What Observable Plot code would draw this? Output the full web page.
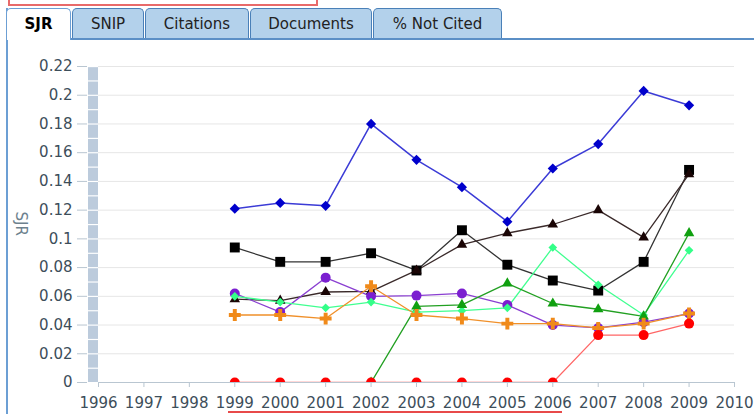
<!DOCTYPE html>
<html><head><meta charset="utf-8">
<script src="https://cdn.jsdelivr.net/npm/d3@7"></script>
<script src="https://cdn.jsdelivr.net/npm/@observablehq/plot@0.6"></script>
<style>
html,body{margin:0;padding:0;background:#fff;}
#wrap{position:relative;width:754px;height:414px;overflow:hidden;font-family:"DejaVu Sans",sans-serif;}
.tab{position:absolute;top:8px;height:30px;box-sizing:border-box;border:1px solid #4a80b8;border-bottom:none;border-radius:5px 5px 0 0;background:#b3d1eb;color:#222;font-size:15px;line-height:31px;text-align:center;z-index:3;}
.tab.sel{background:#fff;height:32px;font-weight:bold;color:#000;border-color:#6c9fd4;z-index:4;}
#base{position:absolute;left:6px;right:0;top:38px;height:2px;background:#5b8fc6;z-index:2;}
#lborder{position:absolute;left:6px;top:8px;width:2px;bottom:0;background:#6c9fd4;z-index:2;}
#chart{position:absolute;left:0;top:40px;z-index:1;}
#redtop{position:absolute;left:8px;top:-10px;width:306px;height:12px;border:2px solid #e86a6a;}
#redbot{position:absolute;left:228px;top:411px;width:334px;height:2px;background:#e84a4a;}
</style></head>
<body><div id="wrap">
<div id="redtop"></div>
<div class="tab sel" style="left:6px;width:65px;">SJR</div>
<div class="tab" style="left:72px;width:72px;">SNIP</div>
<div class="tab" style="left:145px;width:104px;">Citations</div>
<div class="tab" style="left:250px;width:122px;">Documents</div>
<div class="tab" style="left:373px;width:129px;">% Not Cited</div>
<div id="base"></div>
<div id="lborder"></div>
<div id="chart"></div>
<div id="redbot"></div>
</div>
<script>
// ---- data ----
const years = [1999, 2000, 2001, 2002, 2003, 2004, 2005, 2006, 2007, 2008, 2009];
const axisYears = [1996, 1997, 1998, 1999, 2000, 2001, 2002, 2003, 2004, 2005, 2006, 2007, 2008, 2009, 2010];
const yTicks = [0, 0.02, 0.04, 0.06, 0.08, 0.1, 0.12, 0.14, 0.16, 0.18, 0.2, 0.22];
const yTickLabels = ["0", "0.02", "0.04", "0.06", "0.08", "0.1", "0.12", "0.14", "0.16", "0.18", "0.2", "0.22"];
const yAxisTitle = "SJR";

const blueDiamond   = [0.121, 0.125, 0.123, 0.180, 0.155, 0.136, 0.112, 0.149, 0.166, 0.203, 0.193];
const blackSquare   = [0.094, 0.084, 0.084, 0.090, 0.078, 0.106, 0.082, 0.071, 0.064, 0.084, 0.148];
const blackTriangle = [0.058, 0.057, 0.063, 0.0635, 0.078, 0.096, 0.104, 0.110, 0.120, 0.101, 0.145];
const purpleCircle  = [0.062, 0.049, 0.073, 0.060, 0.0605, 0.062, 0.054, 0.040, 0.038, 0.042, 0.048];
const lightGreenDiamond = [0.060, 0.056, 0.052, 0.056, 0.049, 0.050, 0.052, 0.094, 0.068, 0.047, 0.092];
const greenTriangle = [null, null, null, 0, 0.053, 0.054, 0.069, 0.055, 0.051, 0.046, 0.104];
const orangePlus    = [0.047, 0.047, 0.0445, 0.067, 0.047, 0.0445, 0.041, 0.041, 0.038, 0.041, 0.048];
const redCircle     = [0, 0, 0, 0, 0, 0, 0, 0, 0.033, 0.033, 0.041];

// ---- styles (separate from data) ----
const styles = [
  {values: blueDiamond,       line: "#3b3bd6", fill: "#0000cc", symbol: "diamond2", r: 4.6, w: 1.5},
  {values: blackSquare,       line: "#333333", fill: "#000000", symbol: "square",   r: 5.6, w: 1.3},
  {values: blackTriangle,     line: "#3a2a2a", fill: "#1a0505", symbol: "triangle", r: 3.9, w: 1.3},
  {values: purpleCircle,      line: "#8a3fd1", fill: "#7b1fd0", symbol: "circle",   r: 5,   w: 1.3},
  {values: lightGreenDiamond, line: "#40ff90", fill: "#33ff88", symbol: "diamond2", r: 3.9, w: 1.3},
  {values: greenTriangle,     line: "#22a022", fill: "#10a010", symbol: "triangle", r: 3.9, w: 1.3},
  {values: orangePlus,        line: "#f0902a", fill: "#f08a1a", symbol: "cross",    r: 5,   w: 1.3},
  {values: redCircle,         line: "#ff6666", fill: "#ff0000", symbol: "circle",   r: 5,   w: 1.3}
];

// decorative striped bar beside the y axis (one segment per 0.01)
const barSegs = d3.range(22).map(i => ({lo: i / 100, hi: (i + 1) / 100}));

const rowsOf = s => years.map((year, i) => ({year, value: s.values[i]})).filter(d => d.value != null);
const seriesMarks = styles.map(s => Plot.line(rowsOf(s), {x: "year", y: "value", stroke: s.line, strokeWidth: s.w, clip: true}));
const dotMarks = styles.map(s => Plot.dot(rowsOf(s), {x: "year", y: "value", symbol: s.symbol, r: s.r, fill: s.fill, stroke: "none", clip: true}));

const axisColor = "#b9c6d1";
const textColor = "#3d4e5a";

const chart = Plot.plot({
  width: 754,
  height: 374,
  marginLeft: 98,
  marginRight: 20,
  marginTop: 26,
  marginBottom: 32,
  style: {fontFamily: "DejaVu Sans, sans-serif", fontSize: "15px", background: "transparent", overflow: "visible"},
  x: {domain: [1996, 2010]},
  y: {domain: [0, 0.22]},
  marks: [
    Plot.gridY(yTicks, {stroke: "#e6e6e6", strokeOpacity: 1}),
    Plot.ruleX(barSegs, {x: () => 1996, y1: "lo", y2: d => d.hi - 0.0008, stroke: "#bccbdc", strokeWidth: 10, dx: -5.5}),
    Plot.axisY({ticks: yTicks, tickFormat: d => yTickLabels[yTicks.indexOf(d)], tickSize: 10, tickPadding: 5, dx: -11, stroke: axisColor, fill: textColor, fontSize: 15, label: null}),
    Plot.axisX({ticks: axisYears, tickFormat: d => String(d), tickSize: 5, tickPadding: 10, stroke: axisColor, fill: textColor, fontSize: 15, label: null}),
    Plot.text([yAxisTitle], {frameAnchor: "left", dx: -78, dy: -13, rotate: 90, fontSize: 15, fill: "#6d818e"}),
    ...seriesMarks,
    Plot.ruleY([0], {stroke: axisColor, strokeWidth: 1.2}),
    ...dotMarks
  ]
});
document.getElementById("chart").appendChild(chart);
</script>
</body></html>
